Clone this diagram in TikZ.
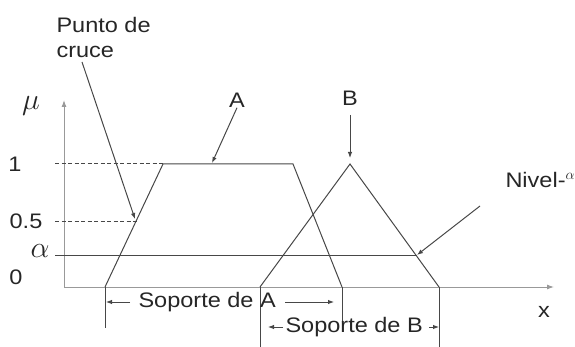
\documentclass[tikz,border=0pt]{standalone}
\usepackage{fontspec}
\usepackage{graphicx}
\setmainfont[FakeStretch=1.12]{Liberation Sans}
\usetikzlibrary{arrows.meta}
\begin{document}
\begin{tikzpicture}[x=1pt,y=-1pt,line width=1pt,
  lbl/.style={font=\fontsize{21}{24}\selectfont,inner sep=0pt,text=black!85},
  ln/.style={draw=black!72},
  dsh/.style={ln,dash pattern=on 4pt off 2.5pt},
  ax/.style={draw=black!40,-{Latex[length=7pt,width=5pt]}},
  arr/.style={ln,-{Latex[length=6pt,width=4.5pt]}}]
\useasboundingbox (0,0) rectangle (575,347);
% axes
\coordinate (O) at (64,287);
\coordinate (ytop) at (64,100);
\coordinate (xend) at (554,287);
\draw[ax] (O) -- (ytop);
\draw[ax] (O) -- (xend);
% labels
\node[lbl] (mu) at (31,106) {\scalebox{1.45}{$\mu$}};
\node[lbl] (one) at (15,164) {1};
\node[lbl] (half) at (26,221) {0.5};
\node[lbl] (al) at (40,251) {\scalebox{1.45}{$\alpha$}};
\node[lbl] (zero) at (16,277) {0};
\node[lbl] (xl) at (544,312) {x};
\node[lbl,anchor=west] (punto) at (56,25) {Punto de};
\node[lbl,anchor=west] (cruce) at (56,52) {cruce};
\node[lbl] (A) at (237,100) {A};
\node[lbl] (B) at (350,98) {B};
\node[lbl,anchor=west] (nivel) at (505,180) {Nivel-$^{\alpha}$};
% key points
\coordinate (a1) at (105,287);
\coordinate (a2) at (163,164);
\coordinate (a3) at (293,164);
\coordinate (a4) at (342,287);
\coordinate (b1) at (260,287);
\coordinate (b2) at (350,164);
\coordinate (b3) at (439,287);
% reference lines
\draw[dsh] (55,164) -- (a2);
\draw[dsh] (55,222) -- (138,222);
\draw[ln] (55,255) -- (417,255);
% sets
\draw[ln] (a1) -- (a2) -- (a3) -- (a4);
\draw[ln] (b1) -- (b2) -- (b3);
% support bars
\draw[ln] (a1) -- (105,328);
\draw[ln] (a4) -- (342,332);
\draw[ln] (b1) -- (260,347);
\draw[ln] (b3) -- (439,347);
% support labels
\node[lbl,anchor=west] (supA) at (138,302) {Soporte de A};
\node[lbl,anchor=west] (supB) at (285,327) {Soporte de B};
\draw[arr] (130,302) -- (106,302);
\draw[arr] (285,302) -- (334,302);
\draw[arr] (283,327) -- (268,327);
\draw[arr] (429,327) -- (439,327);
% pointer arrows
\draw[arr] (82,62) -- (135,219);
\draw[arr] (A.south) -- (212,163);
\draw[arr] (350,115) -- (350,158);
\draw[arr] (480,206) -- (417,255);
\end{tikzpicture}
\end{document}
